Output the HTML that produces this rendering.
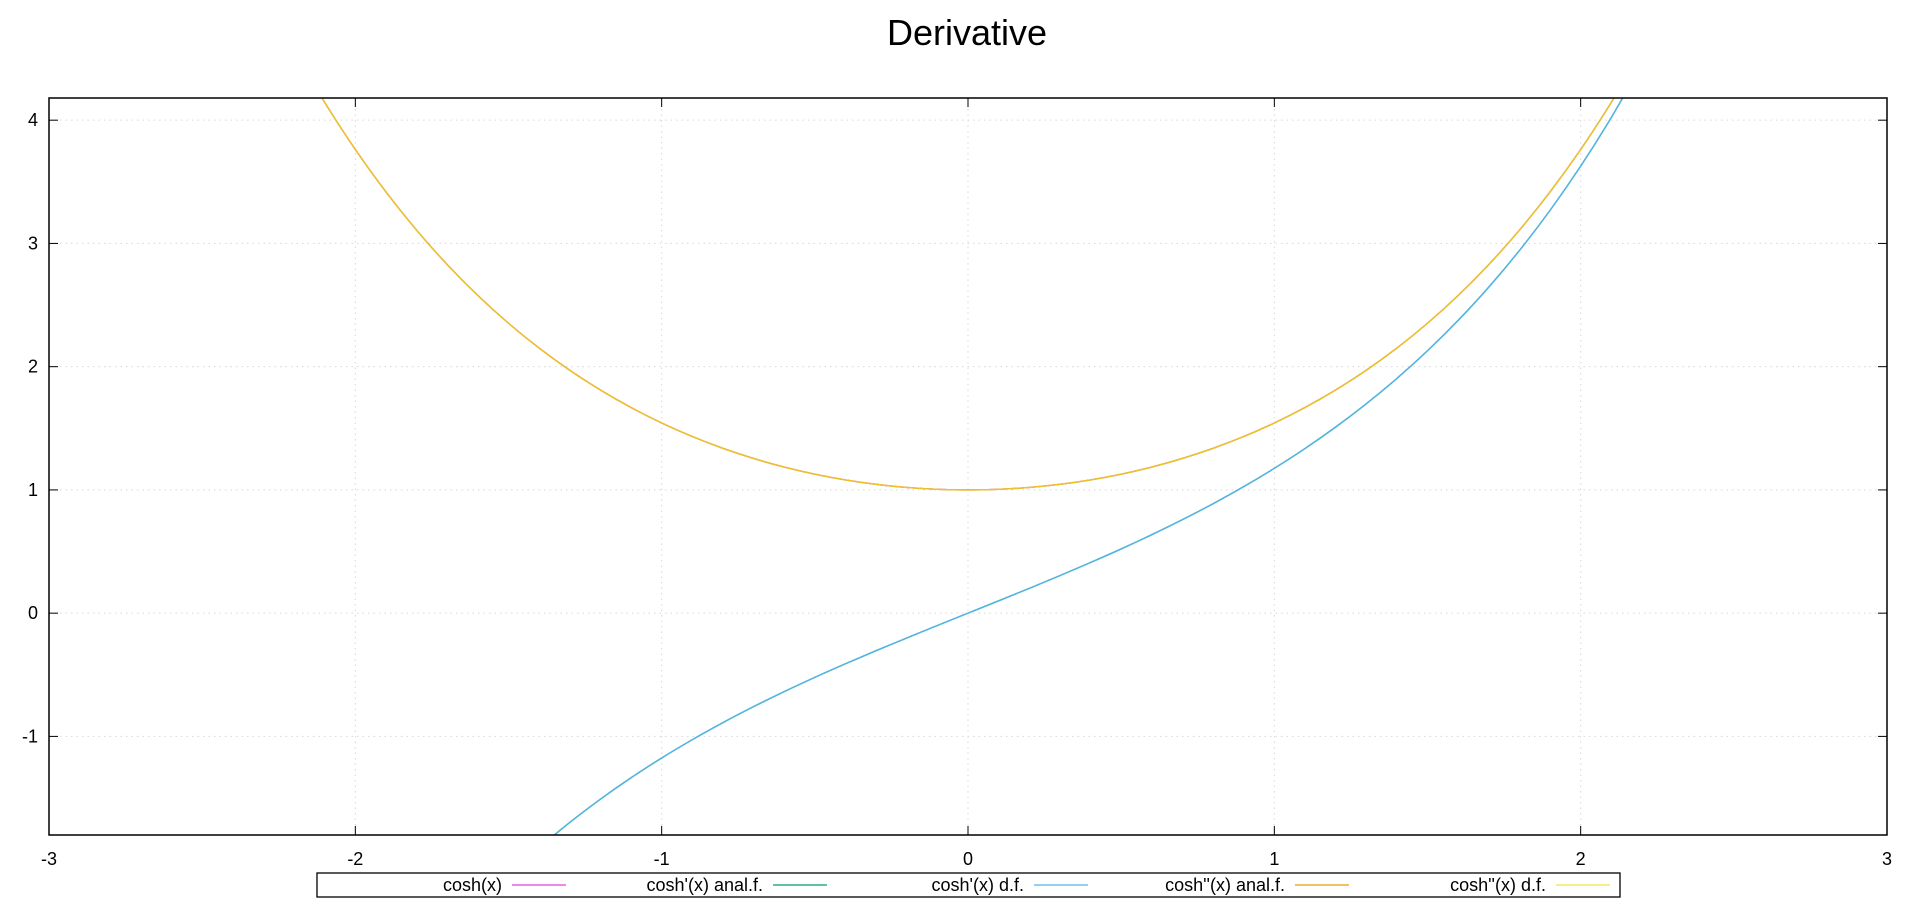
<!DOCTYPE html>
<html><head><meta charset="utf-8"><style>
html,body{margin:0;padding:0;background:#fff;width:1920px;height:908px;overflow:hidden}
svg{display:block;overflow:hidden;font-family:"Liberation Sans","DejaVu Sans",sans-serif}
</style></head><body>
<svg id="chart" width="1920" height="908" viewBox="0 0 1920 908">
<text x="967" y="45" font-size="36" text-anchor="middle">Derivative</text>
<defs><clipPath id="clip"><rect x="49" y="98" width="1838" height="737"/></clipPath></defs>
<g id="grid"></g>
<g id="series" clip-path="url(#clip)"></g>
<rect x="49" y="98" width="1838" height="737" fill="none" stroke="#000" stroke-width="1.5"/>
<g id="axes"></g>
<g id="legend"></g>
</svg>
<script>
const xTicks=[-3,-2,-1,0,1,2,3];
const yTicks=[-1,0,1,2,3,4];
const xs=[-2.2,-2.1,-2.0,-1.9,-1.8,-1.7,-1.6,-1.5,-1.4,-1.3,-1.2,-1.1,-1.0,-0.9,-0.8,-0.7,-0.6,-0.5,-0.4,-0.3,-0.2,-0.1,0,0.1,0.2,0.3,0.4,0.5,0.6,0.7,0.8,0.9,1.0,1.1,1.2,1.3,1.4,1.5,1.6,1.7,1.8,1.9,2.0,2.1,2.2];
const coshVals=[4.5679,4.1443,3.7622,3.4177,3.1075,2.8283,2.5775,2.3524,2.1509,1.9709,1.8107,1.6685,1.5431,1.4331,1.3374,1.2552,1.1855,1.1276,1.0811,1.0453,1.0201,1.005,1,1.005,1.0201,1.0453,1.0811,1.1276,1.1855,1.2552,1.3374,1.4331,1.5431,1.6685,1.8107,1.9709,2.1509,2.3524,2.5775,2.8283,3.1075,3.4177,3.7622,4.1443,4.5679];
const sinhVals=[-4.4571,-4.0219,-3.6269,-3.2682,-2.9422,-2.6456,-2.3756,-2.1293,-1.9043,-1.6984,-1.5095,-1.3356,-1.1752,-1.0265,-0.8881,-0.7586,-0.6367,-0.5211,-0.4108,-0.3045,-0.2013,-0.1002,0,0.1002,0.2013,0.3045,0.4108,0.5211,0.6367,0.7586,0.8881,1.0265,1.1752,1.3356,1.5095,1.6984,1.9043,2.1293,2.3756,2.6456,2.9422,3.2682,3.6269,4.0219,4.4571];
const seriesNames=["cosh(x)","cosh'(x) anal.f.","cosh'(x) d.f.","cosh''(x) anal.f.","cosh''(x) d.f."];
const seriesColors=["#e040e0","#009e73","#56b4e9","#e69f00","#f0e442"];
const seriesData=[coshVals,sinhVals,sinhVals,coshVals,coshVals];

const X0=49,X1=1887,Y0=98,Y1=835,xMin=-3,xMax=3,yMin=-1.8,yMax=4.18;
const sx=v=>X0+(v-xMin)/(xMax-xMin)*(X1-X0);
const sy=v=>Y1-(v-yMin)/(yMax-yMin)*(Y1-Y0);
const NS="http://www.w3.org/2000/svg";
function mk(t,a,p){const e=document.createElementNS(NS,t);for(const k in a)e.setAttribute(k,a[k]);p.appendChild(e);return e;}
const grid=document.getElementById('grid'),axes=document.getElementById('axes'),ser=document.getElementById('series'),leg=document.getElementById('legend');
xTicks.forEach(t=>{const x=sx(t);
 if(t>xMin&&t<xMax){const g=mk('line',{x1:x,x2:x,y1:Y0,y2:Y1,stroke:'#d8d8d8','stroke-dasharray':'1.5,4','stroke-width':1},grid);
 
 }
 mk('line',{x1:x,x2:x,y1:Y1,y2:Y1-9,stroke:'#000'},axes);
 mk('line',{x1:x,x2:x,y1:Y0,y2:Y0+9,stroke:'#000'},axes);
 const l=mk('text',{x:x,y:865,'font-size':18,'text-anchor':'middle'},axes);l.textContent=t;
 
 
});
yTicks.forEach(t=>{const y=sy(t);
 const g=mk('line',{x1:X0,x2:X1,y1:y,y2:y,stroke:'#d8d8d8','stroke-dasharray':'1.5,4','stroke-width':1},grid);
 
 
 mk('line',{x1:X0,x2:X0+9,y1:y,y2:y,stroke:'#000'},axes);
 mk('line',{x1:X1,x2:X1-9,y1:y,y2:y,stroke:'#000'},axes);
 const l=mk('text',{x:38,y:y+6,'font-size':18,'text-anchor':'end'},axes);l.textContent=t;
 
 
});
function pathFor(vals){const p=xs.map((x,i)=>[sx(x),sy(vals[i])]);let d='M'+p[0][0]+','+p[0][1];
 for(let i=0;i<p.length-1;i++){const a=p[Math.max(i-1,0)],b=p[i],c=p[i+1],e=p[Math.min(i+2,p.length-1)];
 d+=' C'+(b[0]+(c[0]-a[0])/6)+','+(b[1]+(c[1]-a[1])/6)+' '+(c[0]-(e[0]-b[0])/6)+','+(c[1]-(e[1]-b[1])/6)+' '+c[0]+','+c[1];}
 return d;}
seriesData.forEach((vals,i)=>{
 const p=mk('path',{d:pathFor(vals),fill:'none',stroke:seriesColors[i],'stroke-width':1.4,'stroke-opacity':i==4?0.55:1},ser);
 
 
});
const lb=mk('rect',{x:317,y:873,width:1303,height:24,fill:'#fff',stroke:'#000','stroke-width':1.3},leg);


seriesNames.forEach((n,i)=>{const ls=512+i*261;
 const t=mk('text',{x:ls-10,y:891,'font-size':18,'text-anchor':'end'},leg);t.textContent=n;
 
 
 const l=mk('line',{x1:ls,x2:ls+54,y1:885,y2:885,stroke:seriesColors[i],'stroke-width':1.3},leg);
 
 
});
</script>
</body></html>
